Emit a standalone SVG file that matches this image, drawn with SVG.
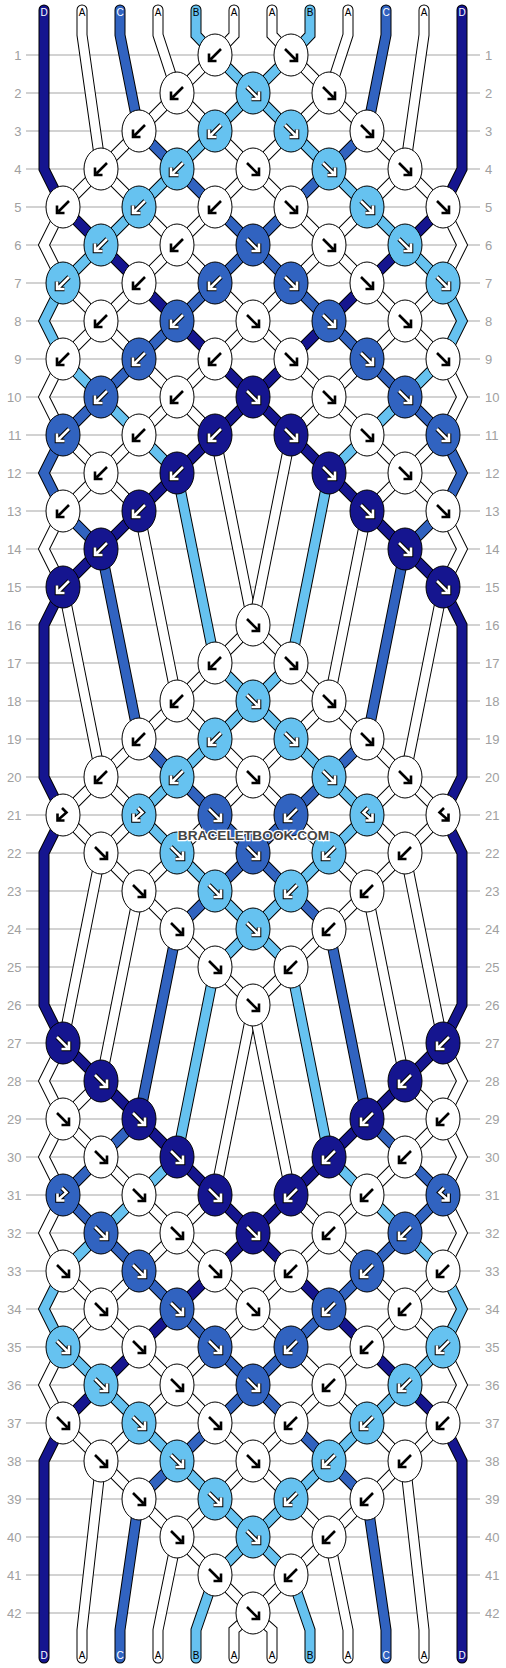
<svg xmlns="http://www.w3.org/2000/svg" width="506" height="1668" viewBox="0 0 506 1668">
<style>
.o{fill:none;stroke:#000;stroke-width:11;stroke-linejoin:miter;stroke-linecap:round}
.f{fill:none;stroke-width:9;stroke-linejoin:miter;stroke-linecap:round}
.sD{stroke:#15158f}.sC{stroke:#3163c0}.sB{stroke:#66c2f0}.sA{stroke:#fff}
.kA{fill:#fff}.kB{fill:#66c2f0}.kC{fill:#3163c0}.kD{fill:#15158f}
.ab{fill:none;stroke:#000;stroke-width:2.6}
.ao{fill:none;stroke:#000;stroke-width:4.6}
.aw{fill:none;stroke:#fff;stroke-width:2.6}
.grid{fill:none;stroke:#c4c4c4;stroke-width:1.3}
.rl{font-family:"Liberation Sans",Arial,sans-serif;font-size:13px;fill:#a0a0a0}
.sl{font-family:"Liberation Sans",Arial,sans-serif;font-size:10px;text-anchor:middle}
.lw{fill:#fff}.lb{fill:#000}
.wm{font-family:"Liberation Sans",Arial,sans-serif;font-size:13.7px;font-weight:bold;fill:#444;stroke:#fff;stroke-width:2.5;paint-order:stroke;text-anchor:middle}
</style>
<defs>
<ellipse id="e" rx="17" ry="21" stroke="#000" stroke-width="1"/>
<path id="aF" d="M-6,-6L4.5,4.5M6,-1.5V6H-1.5"/>
<path id="aL" d="M-1,-7L3.5,-2.5L-4.5,4.5M-5.5,-1.5V5.5H1.5"/>
<g id="wF"><use href="#e" class="kA"/><use href="#aF" class="ab"/></g>
<g id="wB"><use href="#e" class="kA"/><use href="#aF" class="ab" transform="scale(-1,1)"/></g>
<g id="wL"><use href="#e" class="kA"/><use href="#aL" class="ab"/></g>
<g id="wR"><use href="#e" class="kA"/><use href="#aL" class="ab" transform="scale(-1,1)"/></g>
<g id="lF"><use href="#e" class="kB"/><use href="#aF" class="ao"/><use href="#aF" class="aw"/></g>
<g id="lB"><use href="#e" class="kB"/><g transform="scale(-1,1)"><use href="#aF" class="ao"/><use href="#aF" class="aw"/></g></g>
<g id="lL"><use href="#e" class="kB"/><use href="#aL" class="ao"/><use href="#aL" class="aw"/></g>
<g id="lR"><use href="#e" class="kB"/><g transform="scale(-1,1)"><use href="#aL" class="ao"/><use href="#aL" class="aw"/></g></g>
<g id="cF"><use href="#e" class="kC"/><use href="#aF" class="ao"/><use href="#aF" class="aw"/></g>
<g id="cB"><use href="#e" class="kC"/><g transform="scale(-1,1)"><use href="#aF" class="ao"/><use href="#aF" class="aw"/></g></g>
<g id="cL"><use href="#e" class="kC"/><use href="#aL" class="ao"/><use href="#aL" class="aw"/></g>
<g id="cR"><use href="#e" class="kC"/><g transform="scale(-1,1)"><use href="#aL" class="ao"/><use href="#aL" class="aw"/></g></g>
<g id="dF"><use href="#e" class="kD"/><use href="#aF" class="ao"/><use href="#aF" class="aw"/></g>
<g id="dB"><use href="#e" class="kD"/><g transform="scale(-1,1)"><use href="#aF" class="ao"/><use href="#aF" class="aw"/></g></g>
<path id="p0" d="M44,10V169L63,207L101,245L139,283L177,321L215,359L253,397L291,435L329,473L367,511L405,549L443,587L462,625V777L443,815L462,853V1005L443,1043L405,1081L367,1119L329,1157L291,1195L253,1233L215,1271L177,1309L139,1347L101,1385L63,1423L44,1461V1658"/>
<path id="p11" d="M462,10V169L443,207L405,245L367,283L329,321L291,359L253,397L215,435L177,473L139,511L101,549L63,587L44,625V777L63,815L44,853V1005L63,1043L101,1081L139,1119L177,1157L215,1195L253,1233L291,1271L329,1309L367,1347L405,1385L443,1423L462,1461V1658"/>
<path id="p1" d="M82,10V35L101,169L139,207L177,245L215,283L253,321L291,359L329,397L367,435L405,473L443,511L462,549L443,587L405,777L367,815L405,853L443,1043L462,1081L443,1119L405,1157L367,1195L329,1233L291,1271L253,1309L215,1347L177,1385L139,1423L101,1461L82,1630V1658"/>
<path id="p10" d="M424,10V35L405,169L367,207L329,245L291,283L253,321L215,359L177,397L139,435L101,473L63,511L44,549L63,587L101,777L139,815L101,853L63,1043L44,1081L63,1119L101,1157L139,1195L177,1233L215,1271L253,1309L291,1347L329,1385L367,1423L405,1461L424,1630V1658"/>
<path id="p2" d="M120,10V35L139,131L177,169L215,207L253,245L291,283L329,321L367,359L405,397L443,435L462,473L443,511L405,549L367,739L329,777L291,815L253,853L215,891L177,929L139,1119L101,1157L63,1195L101,1233L139,1271L177,1309L215,1347L253,1385L291,1423L329,1461L367,1499L386,1630V1658"/>
<path id="p9" d="M386,10V35L367,131L329,169L291,207L253,245L215,283L177,321L139,359L101,397L63,435L44,473L63,511L101,549L139,739L177,777L215,815L253,853L291,891L329,929L367,1119L405,1157L443,1195L405,1233L367,1271L329,1309L291,1347L253,1385L215,1423L177,1461L139,1499L120,1630V1658"/>
<path id="p3" d="M158,10V35L177,93L215,131L253,169L291,207L329,245L367,283L405,321L443,359L462,397L443,435L405,473L367,511L329,701L291,739L253,777L215,815L177,853L139,891L101,1081L63,1119L44,1157L63,1195L44,1233L63,1271L101,1309L139,1347L177,1385L215,1423L253,1461L291,1499L329,1537L348,1630V1658"/>
<path id="p8" d="M348,10V35L329,93L291,131L253,169L215,207L177,245L139,283L101,321L63,359L44,397L63,435L101,473L139,511L177,701L215,739L253,777L291,815L329,853L367,891L405,1081L443,1119L462,1157L443,1195L462,1233L443,1271L405,1309L367,1347L329,1385L291,1423L253,1461L215,1499L177,1537L158,1630V1658"/>
<path id="p4" d="M196,10V35L215,55L253,93L291,131L329,169L367,207L405,245L443,283L462,321L443,359L405,397L367,435L329,473L291,663L253,701L215,739L177,777L139,815L177,853L215,891L253,929L291,967L329,1157L367,1195L405,1233L443,1271L462,1309L443,1347L405,1385L367,1423L329,1461L291,1499L253,1537L215,1575L196,1630V1658"/>
<path id="p7" d="M310,10V35L291,55L253,93L215,131L177,169L139,207L101,245L63,283L44,321L63,359L101,397L139,435L177,473L215,663L253,701L291,739L329,777L367,815L329,853L291,891L253,929L215,967L177,1157L139,1195L101,1233L63,1271L44,1309L63,1347L101,1385L139,1423L177,1461L215,1499L253,1537L291,1575L310,1630V1658"/>
<path id="p5" d="M234,10V35L215,55L177,93L139,131L101,169L63,207L44,245L63,283L101,321L139,359L177,397L215,435L253,625L291,663L329,701L367,739L405,777L443,815L405,853L367,891L329,929L291,967L253,1005L215,1195L177,1233L139,1271L101,1309L63,1347L44,1385L63,1423L101,1461L139,1499L177,1537L215,1575L253,1613L272,1630V1658"/>
<path id="p6" d="M272,10V35L291,55L329,93L367,131L405,169L443,207L462,245L443,283L405,321L367,359L329,397L291,435L253,625L215,663L177,701L139,739L101,777L63,815L101,853L139,891L177,929L215,967L253,1005L291,1195L329,1233L367,1271L405,1309L443,1347L462,1385L443,1423L405,1461L367,1499L329,1537L291,1575L253,1613L234,1630V1658"/>
</defs>
<rect width="506" height="1668" fill="#fff"/>
<path class="grid" d="M26,55H480M26,93H480M26,131H480M26,169H480M26,207H480M26,245H480M26,283H480M26,321H480M26,359H480M26,397H480M26,435H480M26,473H480M26,511H480M26,549H480M26,587H480M26,625H480M26,663H480M26,701H480M26,739H480M26,777H480M26,815H480M26,853H480M26,891H480M26,929H480M26,967H480M26,1005H480M26,1043H480M26,1081H480M26,1119H480M26,1157H480M26,1195H480M26,1233H480M26,1271H480M26,1309H480M26,1347H480M26,1385H480M26,1423H480M26,1461H480M26,1499H480M26,1537H480M26,1575H480M26,1613H480"/>
<text class="rl" text-anchor="end"><tspan x="21.5" y="59.5">1</tspan><tspan x="21.5" y="97.5">2</tspan><tspan x="21.5" y="135.5">3</tspan><tspan x="21.5" y="173.5">4</tspan><tspan x="21.5" y="211.5">5</tspan><tspan x="21.5" y="249.5">6</tspan><tspan x="21.5" y="287.5">7</tspan><tspan x="21.5" y="325.5">8</tspan><tspan x="21.5" y="363.5">9</tspan><tspan x="21.5" y="401.5">10</tspan><tspan x="21.5" y="439.5">11</tspan><tspan x="21.5" y="477.5">12</tspan><tspan x="21.5" y="515.5">13</tspan><tspan x="21.5" y="553.5">14</tspan><tspan x="21.5" y="591.5">15</tspan><tspan x="21.5" y="629.5">16</tspan><tspan x="21.5" y="667.5">17</tspan><tspan x="21.5" y="705.5">18</tspan><tspan x="21.5" y="743.5">19</tspan><tspan x="21.5" y="781.5">20</tspan><tspan x="21.5" y="819.5">21</tspan><tspan x="21.5" y="857.5">22</tspan><tspan x="21.5" y="895.5">23</tspan><tspan x="21.5" y="933.5">24</tspan><tspan x="21.5" y="971.5">25</tspan><tspan x="21.5" y="1009.5">26</tspan><tspan x="21.5" y="1047.5">27</tspan><tspan x="21.5" y="1085.5">28</tspan><tspan x="21.5" y="1123.5">29</tspan><tspan x="21.5" y="1161.5">30</tspan><tspan x="21.5" y="1199.5">31</tspan><tspan x="21.5" y="1237.5">32</tspan><tspan x="21.5" y="1275.5">33</tspan><tspan x="21.5" y="1313.5">34</tspan><tspan x="21.5" y="1351.5">35</tspan><tspan x="21.5" y="1389.5">36</tspan><tspan x="21.5" y="1427.5">37</tspan><tspan x="21.5" y="1465.5">38</tspan><tspan x="21.5" y="1503.5">39</tspan><tspan x="21.5" y="1541.5">40</tspan><tspan x="21.5" y="1579.5">41</tspan><tspan x="21.5" y="1617.5">42</tspan></text>
<text class="rl" text-anchor="start"><tspan x="485" y="59.5">1</tspan><tspan x="485" y="97.5">2</tspan><tspan x="485" y="135.5">3</tspan><tspan x="485" y="173.5">4</tspan><tspan x="485" y="211.5">5</tspan><tspan x="485" y="249.5">6</tspan><tspan x="485" y="287.5">7</tspan><tspan x="485" y="325.5">8</tspan><tspan x="485" y="363.5">9</tspan><tspan x="485" y="401.5">10</tspan><tspan x="485" y="439.5">11</tspan><tspan x="485" y="477.5">12</tspan><tspan x="485" y="515.5">13</tspan><tspan x="485" y="553.5">14</tspan><tspan x="485" y="591.5">15</tspan><tspan x="485" y="629.5">16</tspan><tspan x="485" y="667.5">17</tspan><tspan x="485" y="705.5">18</tspan><tspan x="485" y="743.5">19</tspan><tspan x="485" y="781.5">20</tspan><tspan x="485" y="819.5">21</tspan><tspan x="485" y="857.5">22</tspan><tspan x="485" y="895.5">23</tspan><tspan x="485" y="933.5">24</tspan><tspan x="485" y="971.5">25</tspan><tspan x="485" y="1009.5">26</tspan><tspan x="485" y="1047.5">27</tspan><tspan x="485" y="1085.5">28</tspan><tspan x="485" y="1123.5">29</tspan><tspan x="485" y="1161.5">30</tspan><tspan x="485" y="1199.5">31</tspan><tspan x="485" y="1237.5">32</tspan><tspan x="485" y="1275.5">33</tspan><tspan x="485" y="1313.5">34</tspan><tspan x="485" y="1351.5">35</tspan><tspan x="485" y="1389.5">36</tspan><tspan x="485" y="1427.5">37</tspan><tspan x="485" y="1465.5">38</tspan><tspan x="485" y="1503.5">39</tspan><tspan x="485" y="1541.5">40</tspan><tspan x="485" y="1579.5">41</tspan><tspan x="485" y="1617.5">42</tspan></text>
<g id="connectors">
<g id="string0"><use href="#p0" class="o"/><use href="#p0" class="f sD"/></g>
<g id="string11"><use href="#p11" class="o"/><use href="#p11" class="f sD"/></g>
<g id="string1"><use href="#p1" class="o"/><use href="#p1" class="f sA"/></g>
<g id="string10"><use href="#p10" class="o"/><use href="#p10" class="f sA"/></g>
<g id="string2"><use href="#p2" class="o"/><use href="#p2" class="f sC"/></g>
<g id="string9"><use href="#p9" class="o"/><use href="#p9" class="f sC"/></g>
<g id="string3"><use href="#p3" class="o"/><use href="#p3" class="f sA"/></g>
<g id="string8"><use href="#p8" class="o"/><use href="#p8" class="f sA"/></g>
<g id="string4"><use href="#p4" class="o"/><use href="#p4" class="f sB"/></g>
<g id="string7"><use href="#p7" class="o"/><use href="#p7" class="f sB"/></g>
<g id="string5"><use href="#p5" class="o"/><use href="#p5" class="f sA"/></g>
<g id="string6"><use href="#p6" class="o"/><use href="#p6" class="f sA"/></g>
</g>
<g id="labels-top" class="sl">
<text x="44" y="16" class="lw">D</text><text x="82" y="16" class="lb">A</text><text x="120" y="16" class="lw">C</text><text x="158" y="16" class="lb">A</text><text x="196" y="16" class="lb">B</text><text x="234" y="16" class="lb">A</text><text x="272" y="16" class="lb">A</text><text x="310" y="16" class="lb">B</text><text x="348" y="16" class="lb">A</text><text x="386" y="16" class="lw">C</text><text x="424" y="16" class="lb">A</text><text x="462" y="16" class="lw">D</text>
</g>
<g id="labels-bottom" class="sl">
<text x="44" y="1659" class="lw">D</text><text x="82" y="1659" class="lb">A</text><text x="120" y="1659" class="lw">C</text><text x="158" y="1659" class="lb">A</text><text x="196" y="1659" class="lb">B</text><text x="234" y="1659" class="lb">A</text><text x="272" y="1659" class="lb">A</text><text x="310" y="1659" class="lb">B</text><text x="348" y="1659" class="lb">A</text><text x="386" y="1659" class="lw">C</text><text x="424" y="1659" class="lb">A</text><text x="462" y="1659" class="lw">D</text>
</g>
<g id="knots">
<g id="n1-1"><use href="#wB" x="215" y="55"/></g><g id="n1-2"><use href="#wF" x="291" y="55"/></g>
<g id="n2-1"><use href="#wB" x="177" y="93"/></g><g id="n2-2"><use href="#lF" x="253" y="93"/></g><g id="n2-3"><use href="#wF" x="329" y="93"/></g>
<g id="n3-1"><use href="#wB" x="139" y="131"/></g><g id="n3-2"><use href="#lB" x="215" y="131"/></g><g id="n3-3"><use href="#lF" x="291" y="131"/></g><g id="n3-4"><use href="#wF" x="367" y="131"/></g>
<g id="n4-1"><use href="#wB" x="101" y="169"/></g><g id="n4-2"><use href="#lB" x="177" y="169"/></g><g id="n4-3"><use href="#wF" x="253" y="169"/></g><g id="n4-4"><use href="#lF" x="329" y="169"/></g><g id="n4-5"><use href="#wF" x="405" y="169"/></g>
<g id="n5-1"><use href="#wB" x="63" y="207"/></g><g id="n5-2"><use href="#lB" x="139" y="207"/></g><g id="n5-3"><use href="#wB" x="215" y="207"/></g><g id="n5-4"><use href="#wF" x="291" y="207"/></g><g id="n5-5"><use href="#lF" x="367" y="207"/></g><g id="n5-6"><use href="#wF" x="443" y="207"/></g>
<g id="n6-1"><use href="#lB" x="101" y="245"/></g><g id="n6-2"><use href="#wB" x="177" y="245"/></g><g id="n6-3"><use href="#cF" x="253" y="245"/></g><g id="n6-4"><use href="#wF" x="329" y="245"/></g><g id="n6-5"><use href="#lF" x="405" y="245"/></g>
<g id="n7-1"><use href="#lB" x="63" y="283"/></g><g id="n7-2"><use href="#wB" x="139" y="283"/></g><g id="n7-3"><use href="#cB" x="215" y="283"/></g><g id="n7-4"><use href="#cF" x="291" y="283"/></g><g id="n7-5"><use href="#wF" x="367" y="283"/></g><g id="n7-6"><use href="#lF" x="443" y="283"/></g>
<g id="n8-1"><use href="#wB" x="101" y="321"/></g><g id="n8-2"><use href="#cB" x="177" y="321"/></g><g id="n8-3"><use href="#wF" x="253" y="321"/></g><g id="n8-4"><use href="#cF" x="329" y="321"/></g><g id="n8-5"><use href="#wF" x="405" y="321"/></g>
<g id="n9-1"><use href="#wB" x="63" y="359"/></g><g id="n9-2"><use href="#cB" x="139" y="359"/></g><g id="n9-3"><use href="#wB" x="215" y="359"/></g><g id="n9-4"><use href="#wF" x="291" y="359"/></g><g id="n9-5"><use href="#cF" x="367" y="359"/></g><g id="n9-6"><use href="#wF" x="443" y="359"/></g>
<g id="n10-1"><use href="#cB" x="101" y="397"/></g><g id="n10-2"><use href="#wB" x="177" y="397"/></g><g id="n10-3"><use href="#dF" x="253" y="397"/></g><g id="n10-4"><use href="#wF" x="329" y="397"/></g><g id="n10-5"><use href="#cF" x="405" y="397"/></g>
<g id="n11-1"><use href="#cB" x="63" y="435"/></g><g id="n11-2"><use href="#wB" x="139" y="435"/></g><g id="n11-3"><use href="#dB" x="215" y="435"/></g><g id="n11-4"><use href="#dF" x="291" y="435"/></g><g id="n11-5"><use href="#wF" x="367" y="435"/></g><g id="n11-6"><use href="#cF" x="443" y="435"/></g>
<g id="n12-1"><use href="#wB" x="101" y="473"/></g><g id="n12-2"><use href="#dB" x="177" y="473"/></g><g id="n12-4"><use href="#dF" x="329" y="473"/></g><g id="n12-5"><use href="#wF" x="405" y="473"/></g>
<g id="n13-1"><use href="#wB" x="63" y="511"/></g><g id="n13-2"><use href="#dB" x="139" y="511"/></g><g id="n13-5"><use href="#dF" x="367" y="511"/></g><g id="n13-6"><use href="#wF" x="443" y="511"/></g>
<g id="n14-1"><use href="#dB" x="101" y="549"/></g><g id="n14-5"><use href="#dF" x="405" y="549"/></g>
<g id="n15-1"><use href="#dB" x="63" y="587"/></g><g id="n15-6"><use href="#dF" x="443" y="587"/></g>
<g id="n16-3"><use href="#wF" x="253" y="625"/></g>
<g id="n17-3"><use href="#wB" x="215" y="663"/></g><g id="n17-4"><use href="#wF" x="291" y="663"/></g>
<g id="n18-2"><use href="#wB" x="177" y="701"/></g><g id="n18-3"><use href="#lF" x="253" y="701"/></g><g id="n18-4"><use href="#wF" x="329" y="701"/></g>
<g id="n19-2"><use href="#wB" x="139" y="739"/></g><g id="n19-3"><use href="#lB" x="215" y="739"/></g><g id="n19-4"><use href="#lF" x="291" y="739"/></g><g id="n19-5"><use href="#wF" x="367" y="739"/></g>
<g id="n20-1"><use href="#wB" x="101" y="777"/></g><g id="n20-2"><use href="#lB" x="177" y="777"/></g><g id="n20-3"><use href="#wF" x="253" y="777"/></g><g id="n20-4"><use href="#lF" x="329" y="777"/></g><g id="n20-5"><use href="#wF" x="405" y="777"/></g>
<g id="n21-1"><use href="#wL" x="63" y="815"/></g><g id="n21-2"><use href="#lL" x="139" y="815"/></g><g id="n21-3"><use href="#cF" x="215" y="815"/></g><g id="n21-4"><use href="#cB" x="291" y="815"/></g><g id="n21-5"><use href="#lR" x="367" y="815"/></g><g id="n21-6"><use href="#wR" x="443" y="815"/></g>
<g id="n22-1"><use href="#wF" x="101" y="853"/></g><g id="n22-2"><use href="#lF" x="177" y="853"/></g><g id="n22-3"><use href="#cF" x="253" y="853"/></g><g id="n22-4"><use href="#lB" x="329" y="853"/></g><g id="n22-5"><use href="#wB" x="405" y="853"/></g>
<g id="n23-2"><use href="#wF" x="139" y="891"/></g><g id="n23-3"><use href="#lF" x="215" y="891"/></g><g id="n23-4"><use href="#lB" x="291" y="891"/></g><g id="n23-5"><use href="#wB" x="367" y="891"/></g>
<g id="n24-2"><use href="#wF" x="177" y="929"/></g><g id="n24-3"><use href="#lF" x="253" y="929"/></g><g id="n24-4"><use href="#wB" x="329" y="929"/></g>
<g id="n25-3"><use href="#wF" x="215" y="967"/></g><g id="n25-4"><use href="#wB" x="291" y="967"/></g>
<g id="n26-3"><use href="#wF" x="253" y="1005"/></g>
<g id="n27-1"><use href="#dF" x="63" y="1043"/></g><g id="n27-6"><use href="#dB" x="443" y="1043"/></g>
<g id="n28-1"><use href="#dF" x="101" y="1081"/></g><g id="n28-5"><use href="#dB" x="405" y="1081"/></g>
<g id="n29-1"><use href="#wF" x="63" y="1119"/></g><g id="n29-2"><use href="#dF" x="139" y="1119"/></g><g id="n29-5"><use href="#dB" x="367" y="1119"/></g><g id="n29-6"><use href="#wB" x="443" y="1119"/></g>
<g id="n30-1"><use href="#wF" x="101" y="1157"/></g><g id="n30-2"><use href="#dF" x="177" y="1157"/></g><g id="n30-4"><use href="#dB" x="329" y="1157"/></g><g id="n30-5"><use href="#wB" x="405" y="1157"/></g>
<g id="n31-1"><use href="#cL" x="63" y="1195"/></g><g id="n31-2"><use href="#wF" x="139" y="1195"/></g><g id="n31-3"><use href="#dF" x="215" y="1195"/></g><g id="n31-4"><use href="#dB" x="291" y="1195"/></g><g id="n31-5"><use href="#wB" x="367" y="1195"/></g><g id="n31-6"><use href="#cR" x="443" y="1195"/></g>
<g id="n32-1"><use href="#cF" x="101" y="1233"/></g><g id="n32-2"><use href="#wF" x="177" y="1233"/></g><g id="n32-3"><use href="#dF" x="253" y="1233"/></g><g id="n32-4"><use href="#wB" x="329" y="1233"/></g><g id="n32-5"><use href="#cB" x="405" y="1233"/></g>
<g id="n33-1"><use href="#wF" x="63" y="1271"/></g><g id="n33-2"><use href="#cF" x="139" y="1271"/></g><g id="n33-3"><use href="#wF" x="215" y="1271"/></g><g id="n33-4"><use href="#wB" x="291" y="1271"/></g><g id="n33-5"><use href="#cB" x="367" y="1271"/></g><g id="n33-6"><use href="#wB" x="443" y="1271"/></g>
<g id="n34-1"><use href="#wF" x="101" y="1309"/></g><g id="n34-2"><use href="#cF" x="177" y="1309"/></g><g id="n34-3"><use href="#wF" x="253" y="1309"/></g><g id="n34-4"><use href="#cB" x="329" y="1309"/></g><g id="n34-5"><use href="#wB" x="405" y="1309"/></g>
<g id="n35-1"><use href="#lF" x="63" y="1347"/></g><g id="n35-2"><use href="#wF" x="139" y="1347"/></g><g id="n35-3"><use href="#cF" x="215" y="1347"/></g><g id="n35-4"><use href="#cB" x="291" y="1347"/></g><g id="n35-5"><use href="#wB" x="367" y="1347"/></g><g id="n35-6"><use href="#lB" x="443" y="1347"/></g>
<g id="n36-1"><use href="#lF" x="101" y="1385"/></g><g id="n36-2"><use href="#wF" x="177" y="1385"/></g><g id="n36-3"><use href="#cF" x="253" y="1385"/></g><g id="n36-4"><use href="#wB" x="329" y="1385"/></g><g id="n36-5"><use href="#lB" x="405" y="1385"/></g>
<g id="n37-1"><use href="#wF" x="63" y="1423"/></g><g id="n37-2"><use href="#lF" x="139" y="1423"/></g><g id="n37-3"><use href="#wF" x="215" y="1423"/></g><g id="n37-4"><use href="#wB" x="291" y="1423"/></g><g id="n37-5"><use href="#lB" x="367" y="1423"/></g><g id="n37-6"><use href="#wB" x="443" y="1423"/></g>
<g id="n38-1"><use href="#wF" x="101" y="1461"/></g><g id="n38-2"><use href="#lF" x="177" y="1461"/></g><g id="n38-3"><use href="#wF" x="253" y="1461"/></g><g id="n38-4"><use href="#lB" x="329" y="1461"/></g><g id="n38-5"><use href="#wB" x="405" y="1461"/></g>
<g id="n39-2"><use href="#wF" x="139" y="1499"/></g><g id="n39-3"><use href="#lF" x="215" y="1499"/></g><g id="n39-4"><use href="#lB" x="291" y="1499"/></g><g id="n39-5"><use href="#wB" x="367" y="1499"/></g>
<g id="n40-2"><use href="#wF" x="177" y="1537"/></g><g id="n40-3"><use href="#lF" x="253" y="1537"/></g><g id="n40-4"><use href="#wB" x="329" y="1537"/></g>
<g id="n41-3"><use href="#wF" x="215" y="1575"/></g><g id="n41-4"><use href="#wB" x="291" y="1575"/></g>
<g id="n42-3"><use href="#wF" x="253" y="1613"/></g>
</g>
<text class="wm" x="253.5" y="839.5">BRACELETBOOK.COM</text>
</svg>
